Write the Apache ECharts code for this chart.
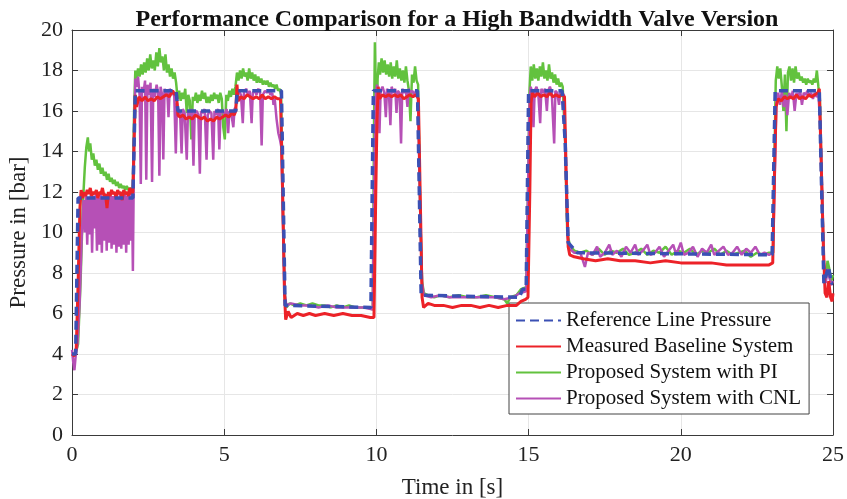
<!DOCTYPE html>
<html>
<head>
<meta charset="utf-8">
<script src="https://cdn.jsdelivr.net/npm/echarts@6/dist/echarts.min.js"></script>
<style>
  html, body { margin: 0; padding: 0; background: #fff; }
  #chart { width: 847px; height: 499px; }
</style>
</head>
<body>
<div id="chart"></div>
<script>
// values, [time s, pressure bar]
var refLine = [[0,4.0],[0.12,4.0],[0.2,11.7],[2.0,11.7],[2.08,17.0],[3.42,17.0],[3.48,16.0],[5.38,16.0],[5.43,17.0],
    [6.88,17.0],[7.0,6.4],[9.82,6.3],[9.9,17.0],[11.35,17.0],[11.47,6.9],[14.7,6.8],[14.8,7.2],[14.92,7.2],[15.0,17.0],
    [16.1,17.0],[16.2,14.5],[16.3,9.5],[16.6,9.0],[23.0,8.9],[23.1,17.0],[24.55,17.0],[24.7,7.5],[24.85,8.3],[24.95,7.5],[25,7.5]];

var baseline = [[0,4.0],[0.08,3.9],[0.14,4.3],[0.2,7.5],[0.26,11.2],[0.3,12.1],[0.35,11.7],[0.4,12.0],[0.45,11.8],[0.5,12.1],
    [0.55,11.9],[0.6,12.2],[0.65,11.8],[0.7,12.0],[0.75,11.9],[0.8,12.1],[0.85,11.7],[0.9,12.0],[0.95,11.9],[1.0,12.2],
    [1.05,11.8],[1.1,11.9],[1.15,11.2],[1.2,12.0],[1.25,11.8],[1.3,12.1],[1.35,11.9],[1.4,12.0],[1.45,11.7],[1.5,12.1],
    [1.55,11.9],[1.6,12.0],[1.65,11.6],[1.7,12.1],[1.75,11.9],[1.8,12.0],[1.85,11.8],[1.9,12.2],[1.95,11.9],[2.0,12.0],
    [2.04,14.5],[2.08,16.8],[2.12,16.2],[2.2,16.7],[2.3,16.5],[2.4,16.7],[2.5,16.5],[2.6,16.6],[2.7,16.5],[2.8,16.7],
    [2.9,16.6],[3.0,16.7],[3.1,16.8],[3.2,16.7],[3.3,17.0],[3.38,16.8],[3.43,16.9],
    [3.48,15.8],[3.55,15.7],[3.65,15.8],[3.75,15.6],[3.85,15.7],[3.95,15.6],[4.05,15.8],[4.15,15.7],[4.25,15.6],[4.35,15.7],
    [4.45,15.5],[4.55,15.6],[4.65,15.5],[4.75,15.7],[4.85,15.6],[4.95,15.7],[5.05,15.8],[5.15,15.7],[5.25,15.9],[5.33,15.8],[5.38,16.0],
    [5.42,17.3],[5.46,16.5],[5.55,16.7],[5.65,16.6],[5.75,16.8],[5.85,16.7],[5.95,16.6],[6.05,16.7],[6.15,16.6],[6.25,16.8],
    [6.35,16.6],[6.45,16.7],[6.55,16.6],[6.65,16.7],[6.75,16.6],[6.85,16.6],
    [6.92,12.0],[6.98,7.0],[7.02,5.7],[7.1,6.1],[7.2,5.8],[7.4,6.0],[7.6,5.9],[7.8,6.0],[8.0,5.9],[8.3,6.0],[8.6,5.9],
    [8.9,6.0],[9.2,5.9],[9.5,5.9],[9.8,5.8],[9.92,5.8],
    [9.98,12.0],[10.02,15.6],[10.06,17.2],[10.1,16.6],[10.2,16.8],[10.3,16.7],[10.4,16.8],[10.5,16.7],[10.6,16.8],[10.7,16.7],
    [10.8,16.8],[10.9,16.6],[11.0,16.7],[11.1,16.8],[11.2,16.7],[11.3,16.8],[11.38,16.6],
    [11.45,11.0],[11.5,6.8],[11.55,6.3],[11.7,6.5],[11.9,6.4],[12.2,6.4],[12.5,6.3],[12.8,6.4],[13.1,6.4],[13.4,6.3],
    [13.7,6.4],[14.0,6.3],[14.3,6.4],[14.6,6.4],[14.75,6.6],[14.9,6.7],[14.98,6.8],
    [15.04,12.0],[15.08,16.4],[15.12,16.9],[15.2,16.7],[15.3,16.9],[15.4,16.7],[15.5,16.8],[15.6,16.7],[15.7,16.9],[15.8,16.7],
    [15.9,16.8],[16.0,16.7],[16.1,16.8],[16.18,16.7],
    [16.24,12.5],[16.3,9.3],[16.35,8.9],[16.5,8.8],[16.8,8.7],[17.2,8.6],[17.6,8.7],[18.0,8.6],[18.5,8.6],[19.0,8.5],
    [19.5,8.6],[20.0,8.5],[20.5,8.5],[21.0,8.5],[21.5,8.4],[22.0,8.4],[22.5,8.4],[22.9,8.4],[23.02,8.5],
    [23.08,13.0],[23.13,16.2],[23.2,16.6],[23.3,16.5],[23.4,16.7],[23.5,16.6],[23.6,16.7],[23.7,16.6],[23.8,16.8],[23.9,16.6],
    [24.0,16.7],[24.1,16.6],[24.2,16.8],[24.3,16.7],[24.4,16.8],[24.5,16.9],[24.55,17.1],
    [24.62,13.0],[24.68,9.5],[24.74,7.0],[24.8,6.8],[24.86,7.6],[24.92,6.8],[24.97,6.6],[25,7.0]];

var withPI = [[0,4.0],[0.1,3.9],[0.2,4.5],[0.28,7.5],[0.36,11.5],[0.42,13.2],[0.47,14.2],[0.52,14.7],[0.56,14.0],[0.6,14.4],
    [0.65,13.6],[0.7,13.9],[0.75,13.3],[0.8,13.6],[0.85,13.1],[0.9,13.4],[0.95,12.9],[1.0,13.2],[1.05,12.8],[1.1,13.0],
    [1.15,12.6],[1.2,12.9],[1.25,12.5],[1.3,12.7],[1.35,12.4],[1.4,12.6],[1.45,12.3],[1.5,12.5],[1.55,12.2],[1.6,12.4],
    [1.65,12.2],[1.7,12.3],[1.75,12.1],[1.8,12.3],[1.85,12.1],[1.9,12.2],[1.95,12.1],[2.0,12.2],
    [2.04,16.0],[2.08,18.0],[2.12,17.6],[2.17,18.1],[2.22,17.7],[2.27,18.3],[2.32,17.8],[2.37,18.4],[2.42,17.9],[2.47,18.6],
    [2.52,18.0],[2.57,18.8],[2.62,18.1],[2.67,18.5],[2.72,18.0],[2.77,18.9],[2.82,18.2],[2.87,19.1],[2.92,18.4],[2.97,18.7],
    [3.02,18.0],[3.07,18.8],[3.12,17.9],[3.17,18.3],[3.22,17.7],[3.27,18.1],[3.32,17.6],[3.37,17.9],[3.42,17.4],
    [3.47,16.6],[3.52,17.0],[3.57,16.5],[3.62,16.9],[3.67,16.6],[3.72,17.1],[3.77,15.9],[3.82,16.8],[3.87,16.5],[3.92,14.6],
    [3.97,16.7],[4.02,16.5],[4.07,16.9],[4.12,16.4],[4.17,16.8],[4.22,16.5],[4.27,17.0],[4.32,16.6],[4.37,16.9],[4.42,16.4],
    [4.47,16.7],[4.52,16.4],[4.57,16.8],[4.62,16.5],[4.67,16.9],[4.72,16.6],[4.77,16.8],[4.82,16.4],[4.87,16.9],[4.92,16.6],
    [4.97,15.2],[5.02,14.6],[5.07,16.8],[5.12,16.5],[5.17,17.0],[5.22,16.7],[5.27,17.1],[5.32,16.8],[5.37,17.2],
    [5.42,17.9],[5.47,17.5],[5.52,18.0],[5.57,17.6],[5.62,18.1],[5.67,17.7],[5.72,17.9],[5.77,17.5],[5.82,18.1],[5.87,17.6],
    [5.92,17.9],[5.97,17.5],[6.02,17.8],[6.07,17.4],[6.12,17.7],[6.17,17.4],[6.22,17.6],[6.27,17.3],[6.32,17.5],[6.37,17.3],
    [6.42,17.5],[6.47,17.2],[6.52,17.4],[6.57,17.2],[6.62,17.3],[6.67,17.1],[6.72,17.3],[6.77,17.0],[6.82,17.1],[6.87,16.8],
    [6.93,11.0],[6.99,7.0],[7.04,6.3],[7.15,6.5],[7.3,6.4],[7.5,6.5],[7.7,6.4],[7.9,6.5],[8.1,6.4],[8.3,6.4],[8.5,6.3],
    [8.7,6.4],[8.9,6.3],[9.1,6.4],[9.3,6.3],[9.5,6.3],[9.7,6.3],[9.88,6.2],
    [9.92,15.0],[9.95,19.4],[9.98,17.0],[10.01,15.2],[10.04,17.6],[10.08,18.4],[10.12,17.8],[10.17,18.6],[10.22,17.9],[10.27,18.5],
    [10.32,17.8],[10.37,18.3],[10.42,17.7],[10.47,18.4],[10.52,17.6],[10.57,18.2],[10.62,17.7],[10.67,18.5],[10.72,17.6],[10.77,18.1],
    [10.82,17.5],[10.87,18.0],[10.92,17.4],[10.97,18.2],[11.02,17.5],[11.07,17.0],[11.12,15.5],[11.17,17.8],[11.22,17.4],[11.27,18.2],
    [11.32,17.5],[11.37,17.3],
    [11.44,11.0],[11.5,7.6],[11.56,7.0],[11.7,6.9],[11.9,6.8],[12.1,6.9],[12.4,6.8],[12.7,6.9],[13.0,6.8],[13.3,6.8],
    [13.6,6.9],[13.9,6.8],[14.2,6.7],[14.3,6.5],[14.4,6.8],[14.6,6.9],[14.75,7.2],[14.92,7.3],
    [14.98,12.0],[15.03,17.0],[15.07,18.2],[15.12,17.5],[15.17,18.3],[15.22,17.6],[15.27,18.1],[15.32,17.5],[15.37,18.2],[15.42,17.7],
    [15.47,18.4],[15.52,17.6],[15.57,18.0],[15.62,17.5],[15.67,18.3],[15.72,17.6],[15.77,17.9],[15.82,17.4],[15.87,17.8],[15.92,17.3],
    [15.97,17.6],[16.02,17.2],[16.07,17.4],[16.12,17.2],
    [16.2,14.5],[16.27,10.0],[16.35,9.4],[16.5,9.1],[16.7,9.0],[16.9,9.1],[17.1,8.9],[17.3,9.2],[17.5,8.9],[17.7,9.1],
    [17.9,9.0],[18.1,9.2],[18.3,8.9],[18.5,9.0],[18.7,9.2],[18.9,8.9],[19.1,9.1],[19.3,9.0],[19.5,9.3],[19.7,8.9],
    [19.9,9.1],[20.1,9.0],[20.3,9.2],[20.5,8.9],[20.7,9.1],[20.9,9.0],[21.1,9.2],[21.3,8.9],[21.5,9.1],[21.7,8.9],
    [21.9,9.0],[22.1,9.1],[22.3,8.8],[22.5,9.0],[22.7,8.9],[22.9,9.0],[23.03,9.0],
    [23.08,14.0],[23.12,17.5],[23.17,18.2],[23.22,17.6],[23.27,18.1],[23.32,17.2],[23.37,16.0],[23.42,17.8],[23.47,15.0],[23.52,17.9],
    [23.57,18.2],[23.62,17.5],[23.67,18.1],[23.72,17.4],[23.77,18.2],[23.82,17.6],[23.87,17.9],[23.92,17.5],[23.97,17.7],[24.02,17.4],
    [24.07,17.6],[24.12,17.3],[24.17,17.6],[24.22,17.4],[24.27,17.5],[24.32,17.3],[24.37,17.6],[24.42,17.4],[24.47,18.0],[24.52,17.2],
    [24.57,16.5],[24.63,12.5],[24.7,8.5],[24.76,7.6],[24.82,8.6],[24.88,8.2],[24.94,7.6],[25,7.9]];

var withCNL = [[0,4.2],[0.04,3.6],[0.08,3.2],[0.12,3.9],[0.18,4.5],[0.25,6.5],[0.32,9.8],[0.38,11.6],[0.42,10.0],[0.46,11.8],
    [0.5,9.4],[0.54,11.7],[0.58,9.9],[0.62,12.0],[0.66,9.0],[0.7,11.8],[0.74,10.2],[0.78,11.9],[0.82,9.1],[0.86,11.7],
    [0.9,9.4],[0.94,12.0],[0.98,9.0],[1.02,11.8],[1.06,9.6],[1.1,11.9],[1.14,9.1],[1.18,11.7],[1.22,9.5],[1.26,12.0],
    [1.3,9.2],[1.34,11.8],[1.38,9.4],[1.42,11.9],[1.46,9.0],[1.5,11.7],[1.54,9.3],[1.58,12.0],[1.62,9.2],[1.66,11.8],
    [1.7,9.4],[1.74,11.9],[1.78,9.0],[1.82,11.8],[1.86,9.4],[1.9,12.0],[1.94,9.6],[1.97,11.9],[2.0,8.1],
    [2.04,14.5],[2.08,17.6],[2.12,17.2],[2.17,17.7],[2.22,16.8],[2.26,12.4],[2.3,17.2],[2.35,16.9],[2.4,17.5],[2.44,12.6],
    [2.48,17.3],[2.53,16.8],[2.58,17.4],[2.63,12.5],[2.67,17.1],[2.72,16.7],[2.78,17.3],[2.83,16.9],[2.87,12.8],[2.91,17.2],
    [2.96,16.8],[3.0,13.6],[3.04,17.1],[3.09,16.8],[3.13,17.0],[3.17,15.7],[3.21,17.1],[3.27,16.8],[3.32,17.0],[3.36,16.7],
    [3.41,13.9],[3.45,16.4],
    [3.5,16.0],[3.55,15.9],[3.6,13.9],[3.64,16.1],[3.7,15.9],[3.77,13.6],[3.81,16.0],[3.88,15.8],[3.94,16.1],[3.99,13.3],
    [4.03,15.9],[4.1,16.0],[4.15,15.8],[4.2,12.9],[4.24,16.0],[4.3,15.9],[4.36,16.1],[4.42,13.6],[4.46,15.8],[4.52,16.0],
    [4.58,15.9],[4.64,13.6],[4.68,16.0],[4.74,15.8],[4.8,16.1],[4.84,14.1],[4.88,15.9],[4.95,16.0],[5.02,15.8],[5.08,16.1],
    [5.13,14.9],[5.17,16.0],[5.23,15.9],[5.3,15.2],[5.34,16.1],[5.38,16.2],
    [5.43,16.8],[5.48,17.0],[5.55,16.8],[5.61,15.4],[5.65,16.9],[5.72,17.1],[5.78,16.8],[5.84,17.0],[5.9,15.4],[5.94,16.9],
    [6.0,17.0],[6.06,16.8],[6.12,17.1],[6.18,16.9],[6.23,14.3],[6.27,16.8],[6.34,17.0],[6.4,16.9],[6.46,17.0],[6.52,16.8],
    [6.58,16.9],[6.62,16.3],[6.66,16.6],[6.72,15.6],[6.78,14.9],[6.83,14.6],[6.88,14.2],
    [6.93,10.5],[6.99,7.0],[7.04,6.4],[7.2,6.5],[7.5,6.4],[7.8,6.4],[8.1,6.3],[8.4,6.4],[8.7,6.3],[9.0,6.3],[9.3,6.3],
    [9.6,6.3],[9.88,6.2],
    [9.94,14.0],[9.98,16.8],[10.02,17.3],[10.06,16.9],[10.1,14.9],[10.14,17.0],[10.2,17.2],[10.26,16.9],[10.31,15.7],[10.35,17.1],
    [10.41,16.9],[10.46,15.3],[10.5,17.2],[10.56,16.9],[10.62,17.1],[10.66,15.9],[10.7,17.0],[10.76,16.9],[10.81,14.4],[10.85,17.1],
    [10.91,16.9],[10.97,17.0],[11.02,16.2],[11.06,17.1],[11.12,16.9],[11.18,17.0],[11.24,16.8],[11.3,17.0],[11.36,16.9],
    [11.44,11.0],[11.5,7.5],[11.56,6.9],[11.8,6.8],[12.1,6.9],[12.4,6.8],[12.7,6.8],[13.0,6.8],[13.3,6.8],[13.6,6.8],
    [13.9,6.8],[14.2,6.7],[14.5,6.8],[14.7,7.0],[14.92,7.1],
    [14.98,12.0],[15.03,16.5],[15.07,17.2],[15.12,16.9],[15.16,15.2],[15.2,17.0],[15.26,17.2],[15.32,16.8],[15.38,15.4],[15.42,17.1],
    [15.48,16.9],[15.54,17.1],[15.6,16.0],[15.64,17.0],[15.7,17.2],[15.76,16.9],[15.84,14.4],[15.88,17.0],[15.94,16.9],[16.0,16.3],
    [16.04,17.0],[16.1,16.9],[16.16,16.8],
    [16.22,13.5],[16.28,9.8],[16.35,9.2],[16.5,9.0],[16.7,9.0],[16.85,8.3],[16.95,9.0],[17.1,8.9],[17.25,9.3],[17.35,8.8],
    [17.5,9.0],[17.65,9.4],[17.75,8.9],[17.9,9.1],[18.05,8.8],[18.2,9.3],[18.35,9.0],[18.5,9.4],[18.6,8.9],[18.75,9.1],
    [18.9,9.4],[19.0,8.9],[19.15,9.0],[19.3,9.3],[19.45,8.8],[19.6,9.1],[19.75,9.4],[19.85,8.9],[20.0,9.5],[20.1,8.9],
    [20.25,9.0],[20.4,9.3],[20.55,8.8],[20.7,9.2],[20.85,9.0],[21.0,9.4],[21.1,8.9],[21.25,9.1],[21.4,9.3],[21.55,8.9],
    [21.7,9.0],[21.85,9.3],[22.0,8.9],[22.15,9.2],[22.3,9.0],[22.45,9.3],[22.6,8.9],[22.75,9.0],[22.9,8.9],[23.03,9.0],
    [23.09,13.0],[23.14,16.4],[23.2,16.9],[23.26,16.3],[23.32,17.0],[23.38,16.2],[23.44,16.8],[23.5,15.8],[23.56,16.9],[23.62,16.6],
    [23.68,17.0],[23.74,16.0],[23.8,16.9],[23.86,16.7],[23.92,17.0],[23.98,16.3],[24.04,16.9],[24.1,16.8],[24.16,17.0],[24.22,16.7],
    [24.28,16.9],[24.34,16.6],[24.4,16.9],[24.46,16.7],[24.52,16.8],[24.58,15.5],
    [24.64,12.0],[24.7,8.5],[24.76,7.5],[24.82,8.2],[24.88,7.8],[24.94,7.4],[25,7.6]];

var seriesNames = ['Reference Line Pressure', 'Measured Baseline System', 'Proposed System with PI', 'Proposed System with CNL'];

var serif = "'Liberation Serif', 'Times New Roman', serif";
var axisCol = '#3a3a3a';

function boxAxis(pos, min, max, step, main) {
    return {
        type: 'value', position: pos, min: min, max: max, interval: step,
        axisLine: { show: true, onZero: false, lineStyle: { color: axisCol, width: 1 } },
        axisTick: { show: true, inside: true, length: 6, lineStyle: { color: axisCol } },
        axisLabel: { show: main, color: '#222', fontFamily: serif, fontSize: 22, margin: 9 },
        splitLine: { show: main, lineStyle: { color: '#e6e6e6', width: 1 } }
    };
}

var xMain = boxAxis('bottom', 0, 25, 5, true);
xMain.name = 'Time in [s]';
xMain.nameLocation = 'middle';
xMain.nameGap = 41;
xMain.nameTextStyle = { color: '#222', fontFamily: serif, fontSize: 23 };

var yMain = boxAxis('left', 0, 20, 2, true);
yMain.name = 'Pressure in [bar]';
yMain.nameLocation = 'middle';
yMain.nameGap = 37;
yMain.nameTextStyle = { color: '#222', fontFamily: serif, fontSize: 23 };

function line(name, data, color, width, z, dash) {
    return {
        name: name, type: 'line', data: data, z: z,
        xAxisIndex: 0, yAxisIndex: 0,
        showSymbol: false, symbol: 'none', smooth: false,
        lineStyle: { color: color, width: width, type: dash || 'solid' },
        itemStyle: { color: color }
    };
}

var chart = echarts.init(document.getElementById('chart'));
chart.setOption({
    animation: false,
    backgroundColor: '#fff',
    title: {
        text: 'Performance Comparison for a High Bandwidth Valve Version',
        left: 452, top: 3, textAlign: 'center',
        textStyle: { fontFamily: serif, fontWeight: 'bold', fontSize: 24, color: '#111' }
    },
    grid: { left: 72, right: 14, top: 30, bottom: 64, outerBoundsMode: 'none', containLabel: false },
    xAxis: [xMain, boxAxis('top', 0, 25, 5, false)],
    yAxis: [yMain, boxAxis('right', 0, 20, 2, false)],
    legend: {
        data: seriesNames,
        orient: 'vertical',
        left: 509, top: 303,
        padding: [7, 8, 5, 6],
        itemGap: 5,
        itemWidth: 45, itemHeight: 14,
        itemStyle: { opacity: 0 },
        backgroundColor: '#fff',
        borderColor: '#444', borderWidth: 1,
        textStyle: { fontFamily: serif, fontSize: 21, lineHeight: 21, color: '#111' }
    },
    series: [
        line(seriesNames[0], refLine, '#3b50b4', 3.5, 5, [9, 5]),
        line(seriesNames[1], baseline, '#ec2228', 3, 4),
        line(seriesNames[2], withPI, '#62c23e', 2.5, 2),
        line(seriesNames[3], withCNL, '#b650b6', 2.5, 3)
    ]
});
</script>
</body>
</html>
